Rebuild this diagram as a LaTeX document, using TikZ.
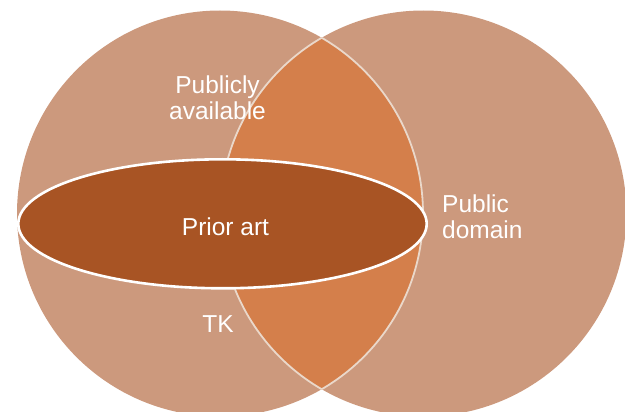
\documentclass[tikz,border=0pt]{standalone}
\usepackage{fontspec}
\setmainfont{Liberation Sans}
\definecolor{setfill}{HTML}{CC997D}
\definecolor{lensfill}{HTML}{D47F4B}
\definecolor{lensline}{HTML}{EAD8CA}
\definecolor{artfill}{HTML}{A85424}
\tikzset{
  lbl/.style={text=white, inner sep=0pt, font=\fontsize{24.5}{26.5}\selectfont},
  lensedge/.style={draw=lensline, line width=1.8pt},
  priorart/.style={fill=artfill, draw=white, line width=2.6pt}
}
\begin{document}
\begin{tikzpicture}[x=1pt, y=-1pt]
  \useasboundingbox (0,0) rectangle (625,412);
  \clip (0,0) rectangle (625,412);
  % the two sets
  \coordinate (cl) at (220,213.5);
  \coordinate (cr) at (423.4,213.5);
  \fill[setfill] (cl) circle[radius=203pt];
  \fill[setfill] (cr) circle[radius=203pt];
  % their overlap
  \begin{scope}
    \clip (cl) circle[radius=203pt];
    \fill[lensfill] (cr) circle[radius=203pt];
    \draw[lensedge] (cr) circle[radius=203pt];
  \end{scope}
  \begin{scope}
    \clip (cr) circle[radius=203pt];
    \draw[lensedge] (cl) circle[radius=203pt];
  \end{scope}
  % prior art
  \coordinate (ce) at (222.5,223.8);
  \path[priorart] (ce) ellipse[x radius=204.2pt, y radius=64.5pt];
  % labels (multi-line nodes sit on the baseline of their last line)
  \node[lbl, anchor=base, align=center] (pub) at (217.5,120) {Publicly\\available};
  \node[lbl, anchor=base] (art) at (225.5,235.7) {Prior art};
  \node[lbl, anchor=base west, align=left] (dom) at (442,239) {Public\\domain};
  \node[lbl, anchor=base] (tk) at (218,332.7) {TK};
\end{tikzpicture}
\end{document}
